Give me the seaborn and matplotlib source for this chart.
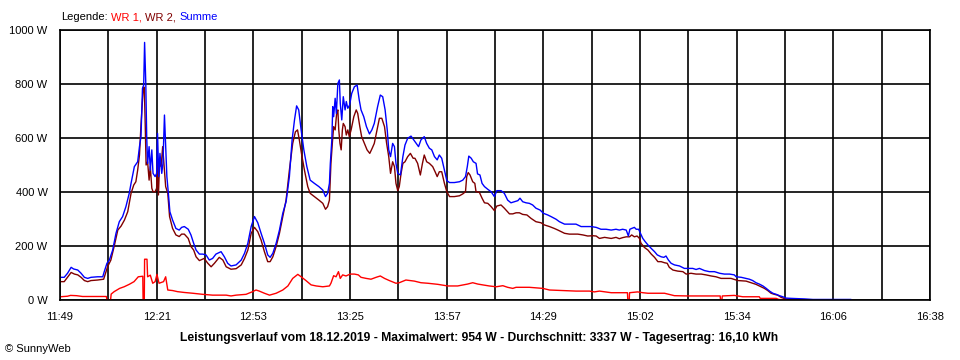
import numpy as np
import matplotlib
matplotlib.use('Agg')
import matplotlib.pyplot as plt
import seaborn as sns

# minutes after 11:49 and power in W
wr1_t = [0.1, 2.5, 3.5, 5.5, 7.5, 15.4, 15.6, 16.8, 17.0, 18.0, 19.8, 21.3, 23.0, 24.6, 26.0, 27.5,
         27.6, 28.0, 28.1, 28.9, 29.1, 30.0, 30.8, 31.6, 32.2, 32.9, 34.4, 35.1, 35.8, 37.4, 39.0,
         41.2, 44.1, 47.4, 50.7, 55.2, 56.8, 58.5, 61.8, 64.0, 65.1, 66.2, 67.9, 69.6, 71.8, 74.0,
         75.7, 77.3, 79.0, 80.1, 81.7, 83.4, 85.1, 87.3, 89.5, 90.0, 90.9, 91.7, 92.5, 93.1, 93.9,
         95.0, 96.4, 97.8, 99.1, 100.0, 101.7, 103.3, 105.0, 106.4, 107.8, 109.4, 111.6, 112.7,
         114.9, 117.7, 119.9, 122.2, 125.5, 128.8, 132.1, 135.4, 137.1, 138.8, 140.4, 142.6, 144.9,
         147.1, 148.7, 150.4, 151.5, 155.9, 160.4, 162.6, 167.0, 171.4, 175.9, 177.5, 179.2, 183.1,
         187.5, 188.5, 188.6, 189.1, 189.2, 191.9, 193.6, 195.3, 200.8, 204.1, 208.5, 214.1, 218.5,
         219.3, 219.4, 219.9, 220.0, 224.0, 226.8, 232.3, 232.6, 237.9, 238.8, 241.2, 245.6, 262.8]
wr1_w = [12, 14, 17, 16, 13, 13, 0, 0, 22, 31, 43, 49, 58, 68, 86, 88,
         0, 0, 151, 151, 86, 92, 62, 68, 95, 62, 68, 86, 37, 35, 31,
         28, 25, 21, 18, 18, 15, 18, 21, 31, 37, 33, 25, 18, 25, 37,
         52, 80, 95, 86, 72, 56, 52, 49, 52, 62, 90, 86, 105, 80, 93,
         89, 96, 96, 93, 84, 80, 77, 84, 89, 80, 72, 62, 64,
         74, 70, 64, 62, 58, 52, 52, 59, 64, 59, 56, 52, 49,
         53, 47, 43, 47, 47, 43, 37, 35, 33, 33, 30, 33, 27,
         27, 27, 2, 2, 27, 30, 27, 25, 25, 16, 15, 15, 15,
         15, 2, 2, 15, 17, 12, 12, 6, 6, 2, 1, 0, 0]

wr2_t = [0.1, 1.4, 2.5, 3.7, 4.8, 5.9, 7.0, 8.1, 9.2, 10.3, 12.5, 14.5, 15.3, 15.8, 16.9, 18.1,
         19.2, 20.3, 21.4, 22.5, 23.6, 24.5, 25.2, 25.8, 26.4, 26.9, 27.4, 27.7, 28.0, 28.3, 28.6,
         29.1, 29.6, 30.0, 30.5, 30.9, 31.6, 32.1, 32.3, 32.7, 33.1, 33.6, 34.1, 34.6, 35.1, 35.8,
         36.4, 37.4, 38.5, 39.6, 40.4, 41.3, 42.6, 43.5, 44.4, 45.2, 46.3, 47.9, 49.1, 50.2, 51.3,
         52.9, 54.1, 55.2, 56.8, 58.5, 60.2, 61.3, 62.4, 63.5, 64.6, 65.7, 66.8, 67.9, 69.0, 69.8,
         70.7, 71.8, 72.9, 74.0, 75.1, 76.2, 77.3, 78.2, 78.9, 79.5, 80.3, 81.2, 82.3, 83.1, 84.5,
         86.0, 87.3, 88.2, 88.9, 89.5, 90.0, 90.5, 90.9, 91.4, 91.9, 92.3, 92.6, 93.0, 93.4, 93.8,
         94.1, 94.7, 95.1, 95.6, 96.1, 96.7, 97.6, 98.4, 98.9, 99.6, 100.2, 101.1, 102.0, 102.9,
         103.7, 104.4, 105.3, 106.1, 106.9, 107.8, 108.5, 109.2, 109.8, 110.5, 111.1, 111.6, 112.2,
         112.7, 113.3, 113.9, 114.6, 115.5, 116.4, 117.3, 117.9, 118.8, 119.7, 120.4, 121.0, 121.8,
         122.7, 123.8, 124.6, 125.3, 126.0, 126.8, 127.7, 128.5, 129.4, 131.0, 132.7, 133.8, 134.7,
         135.1, 135.6, 136.2, 137.1, 137.8, 138.2, 139.3, 140.2, 141.0, 142.1, 143.2, 144.3, 145.1,
         146.5, 147.6, 149.3, 150.4, 151.5, 152.6, 153.7, 155.1, 156.5, 158.1, 159.8, 160.9, 162.6,
         164.2, 165.4, 166.5, 167.6, 169.2, 172.0, 173.7, 175.3, 177.0, 178.1, 179.2, 180.9, 183.1,
         184.7, 185.8, 186.9, 188.1, 189.2, 189.9, 190.8, 191.7, 192.5, 193.0, 194.1, 195.3, 196.4,
         197.5, 198.6, 199.7, 200.8, 201.7, 202.4, 203.6, 205.2, 206.9, 208.0, 209.6, 211.3, 213.0,
         214.6, 216.3, 217.9, 219.6, 221.3, 222.9, 224.0, 225.2, 227.9, 229.6, 231.2, 232.9, 234.0,
         235.1, 236.2, 237.3, 238.4, 239.5, 240.7, 242.3, 245.6, 252.3, 262.8]
wr2_w = [68, 68, 84, 102, 96, 93, 84, 72, 68, 72, 74, 77, 105, 123, 148, 204,
         259, 274, 296, 327, 395, 426, 438, 481, 537, 648, 741, 788, 788, 654, 500,
         512, 444, 494, 414, 401, 401, 414, 519, 389, 512, 494, 568, 494, 420, 395,
         309, 265, 241, 235, 244, 244, 228, 198, 185, 160, 146, 154, 136, 123, 136,
         158, 148, 123, 114, 116, 130, 154, 185, 247, 269, 253, 222, 179, 142, 142,
         160, 198, 247, 309, 370, 481, 580, 623, 630, 593, 537, 481, 420, 395, 383,
         370, 358, 336, 346, 370, 506, 586, 642, 630, 691, 704, 630, 580, 556, 630,
         654, 642, 611, 630, 605, 630, 679, 704, 691, 642, 605, 580, 556, 543,
         562, 580, 630, 673, 673, 642, 580, 531, 469, 512, 494, 432, 405,
         420, 469, 506, 512, 531, 543, 525, 525, 506, 463, 506, 537, 512,
         506, 494, 475, 457, 475, 475, 432, 401, 383, 383, 386, 393, 401,
         457, 472, 463, 438, 432, 401, 399, 377, 360, 358, 346, 331, 348,
         352, 340, 319, 319, 323, 323, 317, 315, 302, 290, 286, 278, 272,
         265, 259, 253, 247, 244, 244, 241, 237, 238, 237, 228, 232, 228,
         232, 227, 231, 234, 234, 241, 234, 237, 228, 210, 195, 185, 170,
         158, 142, 142, 138, 136, 121, 111, 107, 105, 96, 99, 96, 96,
         93, 89, 86, 80, 80, 80, 76, 72, 70, 64, 58, 49, 43,
         35, 25, 21, 18, 10, 5, 2, 1, 0, 0]

summe_t = [0.1, 1.4, 2.5, 3.7, 4.5, 5.9, 7.0, 8.1, 9.2, 10.3, 12.5, 14.2, 14.7, 15.6, 16.4, 17.5,
           18.6, 19.7, 20.8, 21.9, 23.0, 23.6, 24.7, 25.8, 26.4, 26.9, 27.4, 27.8, 28.1, 28.5, 28.8,
           29.1, 29.6, 30.0, 30.5, 30.9, 31.6, 32.1, 32.4, 32.8, 33.2, 33.8, 34.2, 34.7, 35.1, 35.5,
           36.0, 36.5, 37.4, 38.5, 39.6, 40.4, 41.3, 42.6, 43.5, 44.4, 45.2, 46.3, 47.4, 48.5, 49.6,
           50.7, 51.8, 53.5, 54.6, 55.7, 56.8, 58.5, 60.2, 61.3, 62.4, 63.5, 64.6, 65.7, 66.8, 67.9,
           69.0, 69.8, 70.7, 71.8, 72.9, 74.0, 75.1, 76.2, 77.1, 77.9, 78.6, 79.3, 80.1, 81.0, 82.0,
           83.1, 84.5, 86.0, 87.3, 88.2, 88.9, 89.5, 89.8, 90.3, 90.6, 90.9, 91.4, 91.8, 92.3, 92.8,
           93.1, 93.6, 94.1, 94.7, 95.1, 95.6, 96.2, 96.9, 97.8, 98.7, 99.4, 100.0, 100.9, 101.8,
           102.8, 103.6, 104.4, 105.5, 106.4, 107.2, 108.0, 108.7, 109.2, 109.8, 110.5, 111.1, 111.6,
           112.2, 113.1, 113.9, 114.6, 115.5, 116.6, 117.5, 118.3, 119.1, 119.9, 121.0, 121.8, 122.7,
           123.5, 124.4, 125.3, 126.0, 126.8, 127.7, 128.5, 129.4, 131.0, 132.7, 133.8, 134.7, 135.3,
           135.8, 136.6, 137.3, 138.2, 138.7, 139.5, 140.2, 141.0, 142.1, 143.2, 144.3, 145.1, 146.5,
           147.6, 148.7, 149.8, 150.9, 152.1, 152.8, 153.7, 154.8, 155.9, 157.0, 158.1, 159.5, 160.6,
           162.0, 163.1, 164.8, 165.9, 167.6, 169.2, 171.4, 173.1, 174.8, 176.4, 178.1, 179.7, 181.4,
           183.1, 184.7, 185.8, 186.9, 188.1, 188.8, 189.3, 189.9, 190.8, 191.4, 192.2, 192.8, 193.6,
           194.4, 195.3, 196.4, 197.5, 198.4, 199.7, 200.6, 201.3, 202.1, 203.0, 204.1, 205.8, 207.4,
           208.8, 210.2, 211.3, 212.4, 214.1, 215.7, 217.4, 219.1, 220.7, 222.4, 224.0, 224.6, 226.3,
           227.9, 229.0, 230.1, 231.2, 232.3, 233.5, 234.6, 235.7, 236.8, 237.9, 239.0, 240.1, 241.2,
           242.9, 245.6, 247.3, 250.1, 256.7, 262.8]
summe_w = [84, 84, 99, 121, 115, 111, 99, 84, 80, 84, 86, 86, 105, 136, 148, 185,
           247, 290, 309, 346, 395, 432, 494, 512, 568, 605, 784, 796, 954, 802, 605,
           506, 568, 481, 556, 469, 457, 469, 617, 457, 543, 469, 506, 685, 568, 457,
           395, 327, 296, 265, 259, 269, 272, 262, 241, 210, 185, 170, 170, 167, 148,
           154, 170, 179, 160, 136, 126, 130, 148, 173, 210, 272, 309, 286, 247, 210,
           167, 158, 173, 210, 259, 321, 364, 457, 593, 667, 719, 704, 630, 556, 494,
           444, 432, 420, 407, 383, 395, 432, 506, 593, 716, 679, 747, 691, 802, 815,
           728, 667, 753, 704, 735, 710, 722, 765, 790, 796, 741, 704, 679, 642,
           615, 630, 654, 716, 759, 753, 704, 630, 556, 531, 580, 568, 506,
           469, 463, 531, 574, 599, 607, 593, 580, 568, 593, 605, 580, 562,
           556, 531, 519, 537, 525, 481, 442, 435, 435, 438, 444, 457, 494,
           533, 525, 512, 506, 467, 463, 432, 420, 410, 401, 383, 405, 405,
           395, 370, 360, 364, 368, 377, 364, 360, 358, 352, 340, 333, 321,
           315, 309, 299, 290, 281, 281, 281, 272, 272, 272, 269, 262, 262,
           259, 262, 259, 262, 259, 237, 262, 265, 269, 262, 262, 247, 228,
           216, 204, 191, 179, 167, 160, 158, 163, 148, 136, 130, 126, 117,
           117, 117, 113, 117, 109, 105, 105, 99, 96, 96, 93, 86, 84,
           80, 77, 72, 64, 59, 52, 43, 33, 25, 21, 16, 12, 7,
           6, 5, 4, 2, 2, 2]

tick_labels = ["11:49", "12:21", "12:53", "13:25", "13:57", "14:29", "15:02", "15:34", "16:06", "16:38"]
span = 289  # 11:49 -> 16:38 in minutes
y_ticks = [0, 200, 400, 600, 800, 1000]

caption = ("Leistungsverlauf vom 18.12.2019 - Maximalwert: 954 W - "
           "Durchschnitt: 3337 W - Tagesertrag: 16,10 kWh")

sns.set_style("white")
plt.rcParams['font.family'] = ['Liberation Sans', 'DejaVu Sans']

fig = plt.figure(figsize=(9.6, 3.6), dpi=100)
ax = fig.add_axes([60 / 960, 60 / 360, 870 / 960, 270 / 360])

sns.lineplot(x=wr1_t, y=wr1_w, color='#ff0000', lw=1, estimator=None, sort=False, ax=ax)
sns.lineplot(x=wr2_t, y=wr2_w, color='#800000', lw=1, estimator=None, sort=False, ax=ax)
sns.lineplot(x=summe_t, y=summe_w, color='#0000ff', lw=1, estimator=None, sort=False, ax=ax)

ax.set_xlim(0, span)
ax.set_ylim(0, 1000)
ax.set_xticks(np.linspace(0, span, len(tick_labels)))
ax.set_xticklabels(tick_labels)
ax.set_xticks(np.linspace(0, span, 2 * len(tick_labels) - 1), minor=True)
ax.set_yticks(y_ticks)
ax.set_yticklabels([f"{v} W" for v in y_ticks])
ax.set_xlabel("")
ax.set_ylabel("")
ax.set_axisbelow(True)
ax.grid(True, which='both', color='black', lw=1.2)
ax.tick_params(which='both', direction='out', length=5, width=1.2, color='black',
               labelsize=8, labelcolor='black')
ax.tick_params(axis='x', pad=4)
ax.tick_params(axis='y', pad=4)
for s in ax.spines.values():
    s.set_color('black')
    s.set_linewidth(1.2)

# legend line at the top, coloured word by word
t0 = fig.text(61 / 960, 1 - 17 / 360, "Legende:", fontsize=8, va='center', color='black')
t1 = ax.annotate("WR 1,", xy=(1, 0), xycoords=t0, xytext=(2.5, 0), textcoords='offset points',
                 fontsize=8, va='bottom', color='#ff0000')
t2 = ax.annotate("WR 2,", xy=(1, 0), xycoords=t1, xytext=(2.5, 0), textcoords='offset points',
                 fontsize=8, va='bottom', color='#800000')
ax.annotate("Summe", xy=(1, 0), xycoords=t2, xytext=(2.5, 0), textcoords='offset points',
            fontsize=8, va='bottom', color='#0000ff')

fig.text(479 / 960, 1 - 338 / 360, caption, fontsize=8.7, fontweight='bold',
         ha='center', va='center', color='black')
fig.text(5 / 960, 1 - 349 / 360, "© SunnyWeb", fontsize=8, va='center', color='black')

fig.savefig("out.png", dpi=100)
plt.close(fig)
